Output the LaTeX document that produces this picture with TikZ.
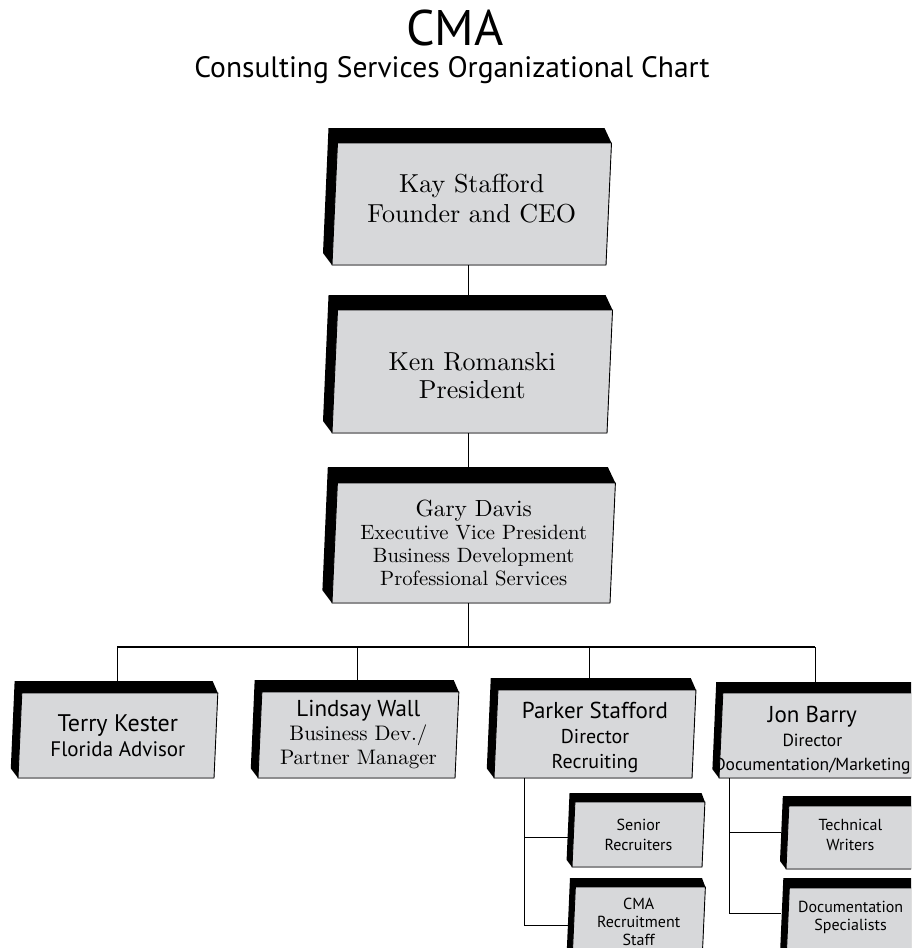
\documentclass[tikz,border=0pt]{standalone}
\usepackage{fontspec}
\setmainfont{lmroman10-regular}[Extension=.otf,BoldFont=lmroman10-bold,ItalicFont=lmroman10-italic,BoldItalicFont=lmroman10-bolditalic]
\newfontfamily\sansf{PT Sans}
\definecolor{facegrey}{HTML}{D7D8DA}
\tikzset{
  face/.style={fill=facegrey,draw=black,line width=0.9pt},
  txt/.style={align=center,inner sep=0pt,text=black},
  conn/.style={draw=black,line width=0.9pt},
  busline/.style={draw=black,line width=1.8pt},
}
% name, xl, xr, ytop, ybottom, depth, connector x, node options, text
\newcommand\cbox[9]{%
  \pgfmathsetmacro\lean{0.045*(#5-#4)}%
  \pgfmathsetmacro\hx{0.6*#6}%
  \fill[black] ({#2+\lean-\hx},{#4-#6}) -- ({#3+\lean-\hx+2},{#4-#6}) -- ({#3+\lean},#4) -- (#3,#5) -- (#2,#5) -- ({#2-\hx},{#5-0.8*#6}) -- cycle;
  \filldraw[face] ({#2+\lean},#4) -- ({#3+\lean},#4) -- (#3,#5) -- (#2,#5) -- cycle;
  \node[txt,#8] (#1) at ({(#2+#3)/2+\lean/2},{(#4+#5)/2}) {#9};
  \coordinate (#1-t) at (#7,{#4-#6});
  \coordinate (#1-b) at (#7,#5);
  \coordinate (#1-l) at ({#2-\hx+1},{(#4+#5)/2});
}
\newcommand\sz[3]{{\fontsize{#1}{#2}\selectfont #3}}
\begin{document}
\begin{tikzpicture}[x=1pt,y=-1pt]
\useasboundingbox (0,0) rectangle (911,948);
\clip (0,0) rectangle (911,948);
% title
\node[anchor=base,inner sep=0pt,font=\sansf\fontsize{50}{56}\selectfont] (title) at (455,45) {CMA};
\node[anchor=base,inner sep=0pt,font=\sansf\fontsize{29.5}{32}\selectfont] (subtitle) at (452,77) {Consulting Services Organizational Chart};
% boxes
\cbox{kay}{332}{606}{143}{265}{15}{468}{font=\fontsize{26}{30}\selectfont,yshift=5pt}{Kay Stafford\\Founder and CEO}
\cbox{ken}{332}{607}{310}{433}{15}{468}{font=\fontsize{26}{28}\selectfont,yshift=-4pt}{Ken Romanski\\President}
\cbox{gary}{332}{610}{483}{603}{16}{468}{font=\fontsize{20.7}{23}\selectfont}{\sz{23.4}{23}{Gary Davis}\\Executive Vice President\\Business Development\\Professional Services}
\cbox{terry}{18}{214}{693}{778}{12}{117}{font=\sansf\fontsize{21}{25}\selectfont}{\sz{24}{25}{Terry Kester}\\Florida Advisor}
\cbox{lindsay}{258}{455}{692}{778}{12}{357}{font=\fontsize{21}{24}\selectfont}{{\sansf\sz{23}{24}{Lindsay Wall}}\\Business Dev./\\Partner Manager}
\cbox{parker}{494}{692}{690}{778}{12}{589}{font=\sansf\fontsize{20}{25}\selectfont,yshift=-3pt}{\sz{23}{25}{Parker Stafford}\\Director\\Recruiting}
\cbox{jon}{719}{920}{693}{778}{11}{815}{font=\sansf\fontsize{17.5}{24}\selectfont,xshift=-9pt,yshift=-5pt}{\sz{23}{24}{Jon Barry}\\Director\\Documentation/Marketing}
\cbox{senior}{572}{702}{802}{867}{9}{0}{font=\sansf\fontsize{16}{20}\selectfont}{Senior\\Recruiters}
\cbox{cmastaff}{572}{702}{887}{962}{9}{0}{font=\sansf\fontsize{16}{18}\selectfont,yshift=3pt}{CMA\\Recruitment\\Staff}
\cbox{tech}{786}{930}{806}{869}{10}{0}{font=\sansf\fontsize{16}{20}\selectfont,xshift=-9pt,yshift=3pt}{Technical\\Writers}
\cbox{docspec}{786}{930}{888}{962}{10}{0}{font=\sansf\fontsize{16}{18}\selectfont,xshift=-9pt,yshift=8pt}{Documentation\\Specialists}
% connectors
\coordinate (bus) at (0,647);
\coordinate (pj1) at (524,837);
\coordinate (pj2) at (524,925);
\coordinate (jj1) at (729,832);
\coordinate (jj2) at (729,913);
\draw[conn] (kay-b) -- (ken-t);
\draw[conn] (ken-b) -- (gary-t);
\draw[conn] (gary-b) -- (gary-b |- bus);
\draw[busline] (terry-t |- bus) -- (jon-t |- bus);
\foreach \n in {terry,lindsay,parker,jon} \draw[conn] (\n-t |- bus) -- (\n-t);
\draw[conn] (pj1 |- parker-b) -- (pj2) -- (pj2 -| cmastaff-l);
\draw[conn] (pj1) -- (pj1 -| senior-l);
\draw[conn] (jj1 |- jon-b) -- (jj2) -- (jj2 -| docspec-l);
\draw[conn] (jj1) -- (jj1 -| tech-l);
\end{tikzpicture}
\end{document}
